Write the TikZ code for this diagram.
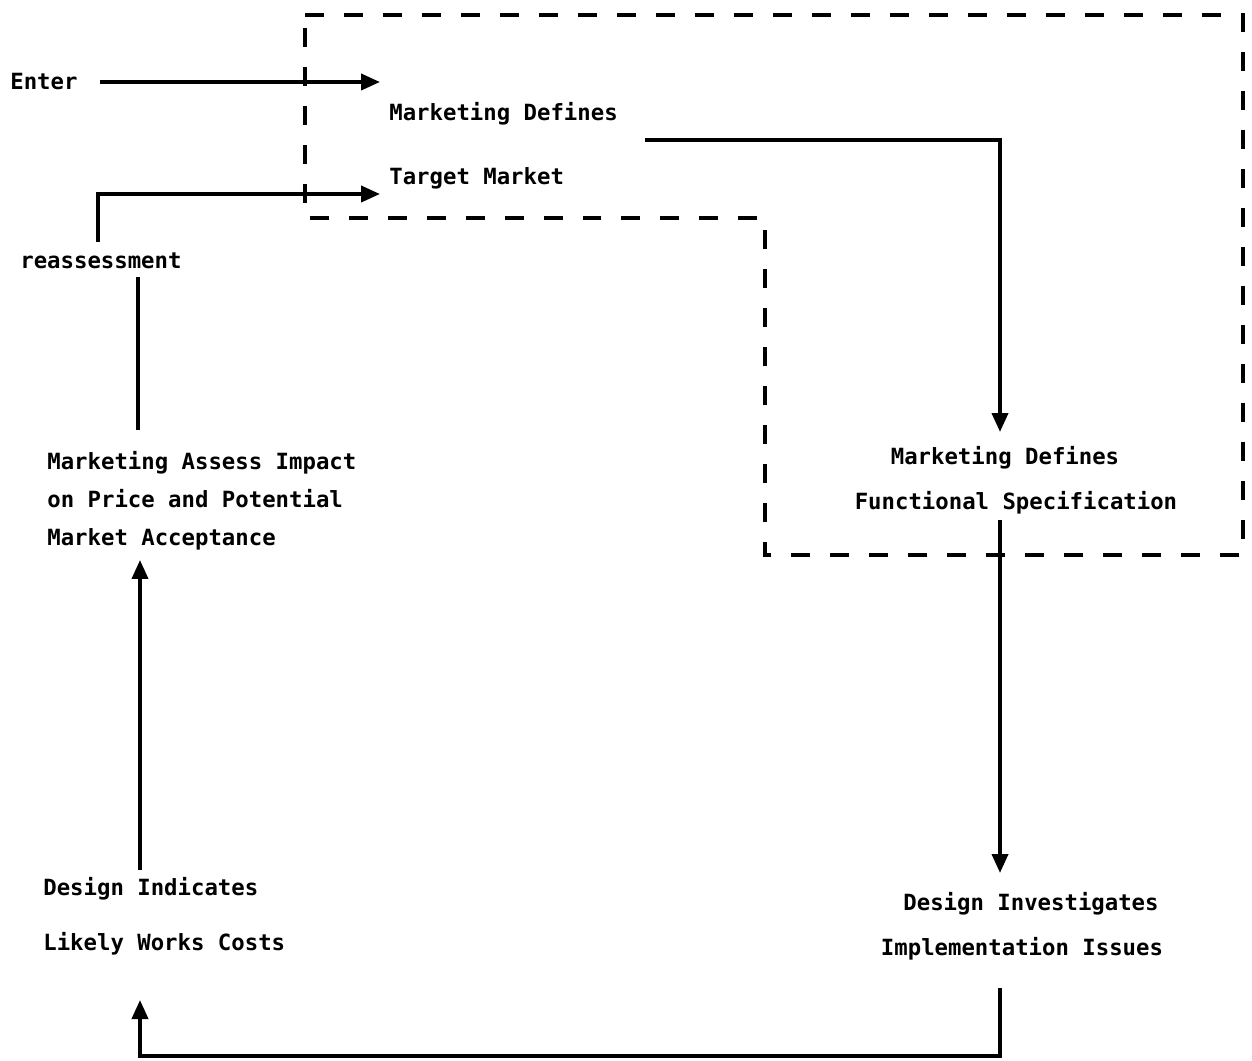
\documentclass[tikz,border=0pt]{standalone}
\usepackage{fontspec}
\newfontfamily\plotfont{DejaVu Sans Mono}
\usetikzlibrary{arrows.meta}
\begin{document}
\begin{tikzpicture}[x=0.02cm,y=-0.02cm,
  lbl/.style={font=\plotfont\bfseries\fontsize{12.7}{15}\selectfont, inner sep=0pt, text height=9pt, text depth=0pt},
  flow/.style={line width=2.2pt, -{Triangle[length=0.38cm,width=0.32cm]}},
  plain/.style={line width=2.2pt},
  zone/.style={line width=2pt, dash pattern=on 0.38cm off 0.40cm}]
\useasboundingbox[fill=white] (0,0) rectangle (1252,1061);

% dashed zone
\draw[zone] (305,15) -- (1243,15) -- (1243,555) -- (765,555) -- (765,218) -- (305,218) -- cycle;

% labels
\node[lbl,anchor=west] (enter) at (10,82) {Enter};
\node[lbl,anchor=west] (mdA) at (389,113) {Marketing Defines};
\node[lbl,anchor=west] (mdB) at (389,177) {Target Market};
\node[lbl] (fsA) at (1005,457) {Marketing Defines};
\node[lbl] (fsB) at (1016,502) {Functional Specification};
\node[lbl] (dvA) at (1031,903) {Design Investigates};
\node[lbl] (dvB) at (1022,948) {Implementation Issues};
\node[lbl,anchor=west] (diA) at (43,888) {Design Indicates};
\node[lbl,anchor=west] (diB) at (43,943) {Likely Works Costs};
\node[lbl,anchor=west] (maiA) at (47,462) {Marketing Assess Impact};
\node[lbl,anchor=west] (maiB) at (47,500) {on Price and Potential};
\node[lbl,anchor=west] (maiC) at (47,538) {Market Acceptance};
\node[lbl,anchor=west] (reass) at (20,261) {reassessment};

% connector end points
\coordinate (e1) at (380,82);
\coordinate (r0) at (98,242);
\coordinate (e2) at (380,194);
\coordinate (m0) at (645,140);
\coordinate (f1) at (1000,432);
\coordinate (f2) at (1000,520);
\coordinate (d1) at (1000,873);
\coordinate (d2) at (1000,988);
\coordinate (b1) at (1000,1056);
\coordinate (c1) at (140,1000);
\coordinate (c2) at (140,870);
\coordinate (a1) at (140,560);
\coordinate (a2) at (138,430);
\coordinate (a3) at (138,277);

% connectors
\draw[flow] ([xshift=0.44cm]enter.east) -- (e1);
\draw[flow] (r0) |- (e2);
\draw[flow] (m0) -| (f1);
\draw[flow] (f2) -- (d1);
\draw[flow] (d2) -- (b1) -| (c1);
\draw[flow] (c2) -- (a1);
\draw[plain] (a2) -- (a3);
\end{tikzpicture}
\end{document}
